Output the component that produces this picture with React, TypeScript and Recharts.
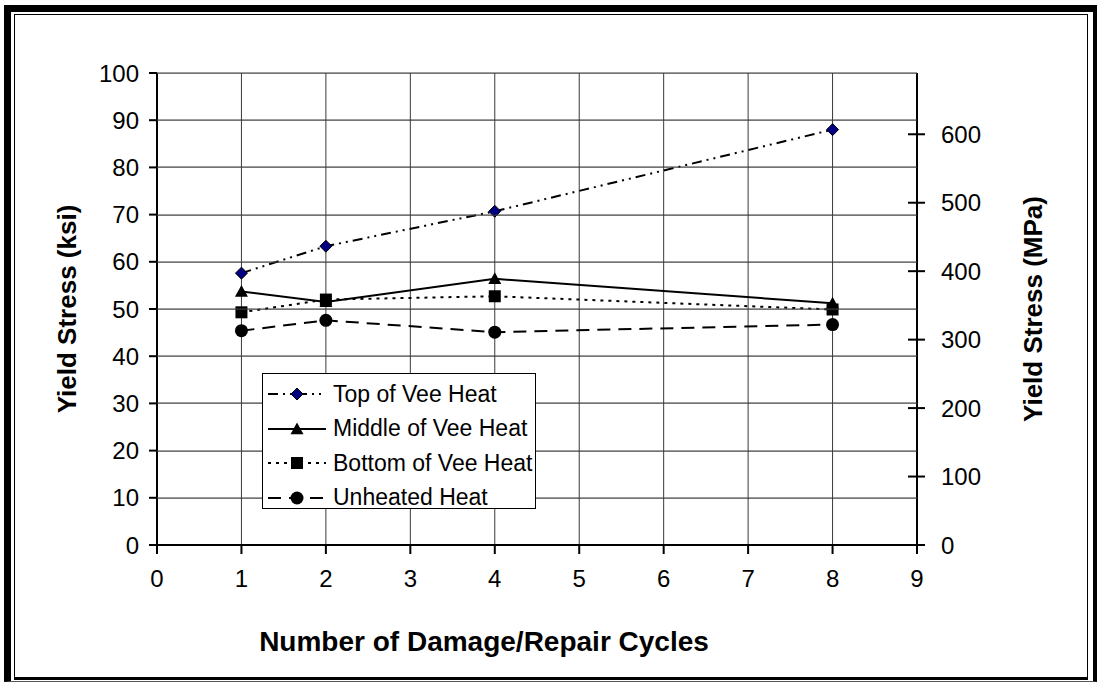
import React from 'react';
import { LineChart, Line, XAxis, YAxis, CartesianGrid, Label } from 'recharts';

// cycles and yield stress (ksi)
const cycles = [1, 2, 4, 8];
const topOfVee = [57.6, 63.3, 70.7, 88.0];
const middleOfVee = [53.7, 51.5, 56.4, 51.2];
const bottomOfVee = [49.3, 52.0, 52.7, 49.9];
const unheated = [45.4, 47.6, 45.1, 46.7];

const xTicks = [0, 1, 2, 3, 4, 5, 6, 7, 8, 9];
const ksiTicks = [0, 10, 20, 30, 40, 50, 60, 70, 80, 90, 100];
const mpaTicks = [0, 100, 200, 300, 400, 500, 600];
const KSI_TO_MPA = 6.895;

const data = cycles.map((c, i) => ({
  cycles: c,
  top: topOfVee[i],
  middle: middleOfVee[i],
  bottom: bottomOfVee[i],
  unheated: unheated[i],
}));

const FONT = 'Arial, "Liberation Sans", Helvetica, sans-serif';
const TICK_SIZE = 24;
const TITLE_SIZE = 26;
const GRID = '#3a3a3a';

const CHART_W = 1099;
const CHART_H = 683;
const PLOT_TOP = 73;
const X_AXIS_H = 138;
const LEFT_W = 157;
const RIGHT_W = 182;
const PLOT_W = CHART_W - LEFT_W - RIGHT_W;

const DASH_TOP = '10 5 2 5 2 5';
const DASH_BOTTOM = '3 5';
const DASH_UNHEATED = '13 8';

type DotProps = { cx?: number; cy?: number; index?: number };

const Diamond = ({ cx, cy, index }: DotProps) => {
  if (cx == null || cy == null) return <g key={`d${index}`} />;
  const r = 6;
  return (
    <path
      key={`d${index}`}
      d={`M${cx},${cy - r}L${cx + r},${cy}L${cx},${cy + r}L${cx - r},${cy}Z`}
      fill="#000080"
      stroke="#000"
      strokeWidth={1}
    />
  );
};

const Triangle = ({ cx, cy, index }: DotProps) => {
  if (cx == null || cy == null) return <g key={`t${index}`} />;
  const r = 6.5;
  return (
    <path
      key={`t${index}`}
      d={`M${cx},${cy - r}L${cx + r},${cy + r * 0.8}L${cx - r},${cy + r * 0.8}Z`}
      fill="#000"
    />
  );
};

const Square = ({ cx, cy, index }: DotProps) => {
  if (cx == null || cy == null) return <g key={`s${index}`} />;
  const r = 6;
  return <rect key={`s${index}`} x={cx - r} y={cy - r} width={r * 2} height={r * 2} fill="#000" />;
};

const Circle = ({ cx, cy, index }: DotProps) => {
  if (cx == null || cy == null) return <g key={`c${index}`} />;
  return <circle key={`c${index}`} cx={cx} cy={cy} r={6.5} fill="#000" />;
};

// left tick also carries the horizontal gridline of its value (a 1px rect)
const LeftTick = (props: any) => {
  const { x, y, payload } = props;
  const row = Math.round(y);
  return (
    <g>
      {Number(payload.value) > 0 && (
        <rect x={x} y={row - 0.5} width={PLOT_W} height={1.2} fill={GRID} />
      )}
      <rect x={x - 8} y={y - 1} width={8} height={2} fill="#000" />
      <text x={x - 18} y={y} dy="0.36em" textAnchor="end" fontSize={TICK_SIZE} fontFamily={FONT} fill="#000">
        {payload.value}
      </text>
    </g>
  );
};

const RightTick = (props: any) => {
  const { x, y, payload } = props;
  return (
    <g>
      <rect x={x - 9} y={y - 1} width={17} height={2} fill="#000" />
      <text x={x + 24} y={y} dy="0.36em" textAnchor="start" fontSize={TICK_SIZE} fontFamily={FONT} fill="#000">
        {payload.value}
      </text>
    </g>
  );
};

const BottomTick = (props: any) => {
  const { x, y, payload } = props;
  return (
    <g>
      <line x1={x} y1={y} x2={x} y2={y + 9} stroke="#000" strokeWidth={2} />
      <text x={x} y={y + 42} textAnchor="middle" fontSize={TICK_SIZE} fontFamily={FONT} fill="#000">
        {payload.value}
      </text>
    </g>
  );
};

const legendItems = [
  { name: 'Top of Vee Heat', dash: DASH_TOP, marker: 'diamond' },
  { name: 'Middle of Vee Heat', dash: undefined, marker: 'triangle' },
  { name: 'Bottom of Vee Heat', dash: DASH_BOTTOM, marker: 'square' },
  { name: 'Unheated Heat', dash: DASH_UNHEATED, marker: 'circle' },
];

function LegendMarker({ marker }: { marker: string }) {
  if (marker === 'diamond') return <Diamond cx={29} cy={10} index={0} />;
  if (marker === 'triangle') return <Triangle cx={29} cy={10} index={0} />;
  if (marker === 'square') return <Square cx={29} cy={10} index={0} />;
  return <Circle cx={29} cy={10} index={0} />;
}

function ChartLegend() {
  return (
    <div
      style={{
        position: 'absolute',
        left: 262,
        top: 373,
        width: 274,
        height: 136,
        border: '1px solid #000',
        background: '#fff',
        fontFamily: FONT,
        fontSize: 23,
        boxSizing: 'border-box',
        paddingTop: 3,
      }}
    >
      {legendItems.map((item) => (
        <div key={item.name} style={{ display: 'flex', alignItems: 'center', height: 34.5 }}>
          <svg width={66} height={20} style={{ marginLeft: 5, flex: 'none' }}>
            <line x1={0} y1={10} x2={58} y2={10} stroke="#000" strokeWidth={2} strokeDasharray={item.dash} />
            <LegendMarker marker={item.marker} />
          </svg>
          <span style={{ whiteSpace: 'nowrap', marginLeft: -1 }}>{item.name}</span>
        </div>
      ))}
    </div>
  );
}

export default function App() {
  return (
    <div style={{ position: 'fixed', left: 0, top: 0, width: CHART_W, height: CHART_H, background: '#fff', overflow: 'hidden' }}>
      {/* double frame */}
      <div
        style={{
          position: 'absolute',
          left: 4,
          top: 5,
          width: 1093,
          height: 677,
          boxSizing: 'border-box',
          borderLeft: '7px solid #000',
          borderTop: '7px solid #000',
          borderRight: '4px solid #000',
          borderBottom: '1px solid #555',
        }}
      />
      <div
        style={{
          position: 'absolute',
          left: 14,
          top: 14,
          width: 1074,
          height: 666,
          boxSizing: 'border-box',
          border: '1px solid #000',
          borderBottom: '3px solid #000',
        }}
      />
      <div style={{ position: 'absolute', left: 0, top: 0 }}>
        <LineChart width={CHART_W} height={CHART_H} data={data} margin={{ top: PLOT_TOP, right: 0, bottom: 0, left: 0 }}>
          <CartesianGrid stroke={GRID} strokeWidth={1} horizontal={false} />
          <XAxis
            dataKey="cycles"
            type="number"
            domain={[0, 9]}
            ticks={xTicks}
            height={X_AXIS_H}
            tickSize={0}
            tickMargin={0}
            tickLine={false}
            axisLine={{ stroke: '#000', strokeWidth: 2 }}
            tick={<BottomTick />}
            interval={0}
          >
            <Label
              content={(p: any) => {
                const vb = p.viewBox;
                return (
                  <text
                    x={484}
                    y={vb.y + 96}
                    dy="0.36em"
                    textAnchor="middle"
                    fontSize={28}
                    fontWeight="bold"
                    fontFamily={FONT}
                    fill="#000"
                  >
                    Number of Damage/Repair Cycles
                  </text>
                );
              }}
            />
          </XAxis>
          <YAxis
            orientation="left"
            domain={[0, 100]}
            ticks={ksiTicks}
            width={LEFT_W}
            tickSize={0}
            tickMargin={0}
            tickLine={false}
            axisLine={{ stroke: '#000', strokeWidth: 2 }}
            tick={<LeftTick />}
            interval={0}
          >
            <Label
              content={(p: any) => {
                const vb = p.viewBox;
                const cy = vb.y + vb.height / 2;
                return (
                  <text
                    x={67}
                    y={cy}
                    dy="0.36em"
                    transform={`rotate(-90, 67, ${cy})`}
                    textAnchor="middle"
                    fontSize={TITLE_SIZE}
                    fontWeight="bold"
                    fontFamily={FONT}
                    fill="#000"
                  >
                    Yield Stress (ksi)
                  </text>
                );
              }}
            />
          </YAxis>
          <YAxis
            yAxisId="mpa"
            orientation="right"
            domain={[0, 100 * KSI_TO_MPA]}
            ticks={mpaTicks}
            width={RIGHT_W}
            tickSize={0}
            tickMargin={0}
            tickLine={false}
            axisLine={{ stroke: '#000', strokeWidth: 2 }}
            tick={<RightTick />}
            interval={0}
            allowDataOverflow
          >
            <Label
              content={(p: any) => {
                const vb = p.viewBox;
                const cy = vb.y + vb.height / 2;
                return (
                  <text
                    x={1033}
                    y={cy}
                    dy="0.36em"
                    transform={`rotate(-90, 1033, ${cy})`}
                    textAnchor="middle"
                    fontSize={TITLE_SIZE}
                    fontWeight="bold"
                    fontFamily={FONT}
                    fill="#000"
                  >
                    Yield Stress (MPa)
                  </text>
                );
              }}
            />
          </YAxis>
          <Line
            dataKey="top"
            name="Top of Vee Heat"
            stroke="#000"
            strokeWidth={2}
            strokeDasharray={DASH_TOP}
            dot={(p: any) => <Diamond key={`top${p.index}`} {...p} />}
            isAnimationActive={false}
          />
          <Line
            dataKey="middle"
            name="Middle of Vee Heat"
            stroke="#000"
            strokeWidth={2}
            dot={(p: any) => <Triangle key={`mid${p.index}`} {...p} />}
            isAnimationActive={false}
          />
          <Line
            dataKey="bottom"
            name="Bottom of Vee Heat"
            stroke="#000"
            strokeWidth={2}
            strokeDasharray={DASH_BOTTOM}
            dot={(p: any) => <Square key={`bot${p.index}`} {...p} />}
            isAnimationActive={false}
          />
          <Line
            dataKey="unheated"
            name="Unheated Heat"
            stroke="#000"
            strokeWidth={2}
            strokeDasharray={DASH_UNHEATED}
            dot={(p: any) => <Circle key={`unh${p.index}`} {...p} />}
            isAnimationActive={false}
          />
        </LineChart>
      </div>
      <ChartLegend />
    </div>
  );
}
